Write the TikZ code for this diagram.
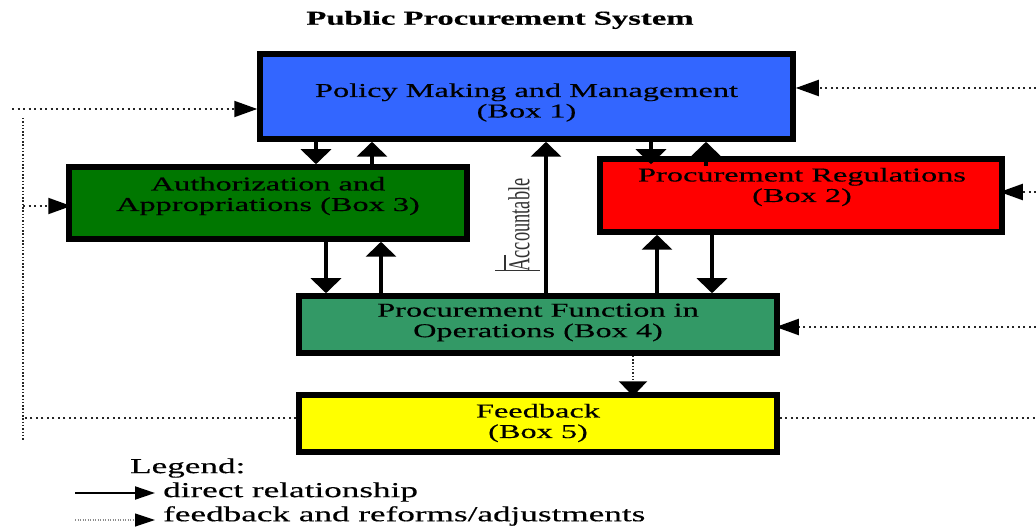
\documentclass[tikz,border=0pt]{standalone}
\usepackage{fontspec}
\usepackage{graphicx}
\setmainfont{Liberation Serif}
\newfontfamily\wideserif[FakeStretch=1.65,FakeBold=0.4]{Liberation Serif}
\usetikzlibrary{arrows.meta}

\definecolor{boxblue}{RGB}{51,102,255}
\definecolor{boxred}{RGB}{255,0,0}
\definecolor{boxgreen}{RGB}{0,119,0}
\definecolor{boxsea}{RGB}{51,153,102}
\definecolor{boxyellow}{RGB}{255,255,0}

\tikzset{
  sysbox/.style={draw=black, line width=5.5pt, inner sep=0pt, outer sep=2.75pt, rectangle},
  boxtext/.style={align=center, inner sep=0pt, font=\wideserif\fontsize{19.6pt}{20.5pt}\selectfont},
  direct/.style={line width=3.8pt, -{Triangle[length=15pt,width=30pt]}},
  fbtip/.style={-{Triangle[length=23pt,width=16pt,color=black,fill=black]}},
  fback/.style={line width=2pt, black!85, dash pattern=on 2pt off 3.5pt, fbtip},
  fbline/.style={line width=2pt, black!85, dash pattern=on 2pt off 3.5pt},
  fbdense/.style={line width=2.4pt, black!85, dash pattern=on 1.5pt off 1.8pt},
  legtext/.style={anchor=west, inner sep=0pt, font=\wideserif\fontsize{21.3pt}{23pt}\selectfont}
}

\begin{document}
\begin{tikzpicture}[x=1pt,y=-1pt]
  \fill[white] (0,0) rectangle (1036,529);
  \useasboundingbox (0,0) rectangle (1036,529);

  % title
  \node[inner sep=0pt, font=\wideserif\bfseries\fontsize{19.8pt}{22pt}\selectfont] (title) at (500,20) {Public Procurement System};

  % the five boxes
  \node[sysbox, fill=boxblue,   minimum width=533pt, minimum height=85pt] (b1) at (526.5,96.5) {};
  \node[sysbox, fill=boxred,    minimum width=402pt, minimum height=73pt] (b2) at (801,195.5) {};
  \node[sysbox, fill=boxgreen,  minimum width=398pt, minimum height=72pt] (b3) at (268,203) {};
  \node[sysbox, fill=boxsea,    minimum width=478pt, minimum height=57pt] (b4) at (538,324.5) {};
  \node[sysbox, fill=boxyellow, minimum width=478pt, minimum height=57pt] (b5) at (538,423.5) {};

  \node[boxtext] (t1) at (526.5,102.5) {Policy Making and Management\\(Box 1)};
  \node[boxtext] (t2) at (802,187) {Procurement Regulations\\(Box 2)};
  \node[boxtext] (t3) at (268,196) {Authorization and\\Appropriations (Box 3)};
  \node[boxtext] (t4) at (538,322.5) {Procurement Function in\\Operations (Box 4)};
  \node[boxtext] (t5) at (538,423) {Feedback\\(Box 5)};

  % columns of the vertical connectors
  \coordinate (cA) at (316,0);
  \coordinate (cB) at (372,0);
  \coordinate (cC) at (651,0);
  \coordinate (cD) at (706,0);
  \coordinate (cE) at (326,0);
  \coordinate (cF) at (381,0);
  \coordinate (cG) at (657,0);
  \coordinate (cH) at (712,0);
  \coordinate (cI) at (546,0);
  \coordinate (cJ) at (633,0);

  % direct relationships
  \draw[direct] (b1.south -| cA) -- (b3.north -| cA);
  \draw[direct] (b3.north -| cB) -- (b1.south -| cB);
  \draw[direct, shorten >=-8pt] (b1.south -| cC) -- (b2.north -| cC);
  \draw[direct, shorten <=-10pt] (b2.north -| cD) -- (b1.south -| cD);
  \draw[direct] (b3.south -| cE) -- (b4.north -| cE);
  \draw[direct] (b4.north -| cF) -- (b3.south -| cF);
  \draw[direct] (b4.north -| cG) -- (b2.south -| cG);
  \draw[direct] (b2.south -| cH) -- (b4.north -| cH);
  \draw[direct] (b4.north -| cI) -- (b1.south -| cI);

  % accountable label
  \node[inner sep=0pt, text=black!80] (acc) at (519,225)
    {\scalebox{1.65}[1]{\rotatebox{90}{\fontsize{18.4pt}{20pt}\selectfont Accountable}}};
  \draw[line width=1.3pt, black!80] (495,270.5) -- (540,270.5);
  \draw[line width=1.3pt, black!80] (505,255) -- (505,270.5);

  % operations to feedback
  \draw[fbdense, -{Triangle[length=15pt,width=28pt,color=black,fill=black]}, shorten >=-4pt] (b4.south -| cJ) -- (b5.north -| cJ);

  % left feedback loop
  \coordinate (lTop) at (12,109);
  \coordinate (lv1) at (23,118);
  \coordinate (lv2) at (23,441);
  \coordinate (l3) at (23,206);
  \coordinate (l5) at (23,418);
  \draw[fback] (lTop) -- (b1.west |- lTop);
  \draw[fbdense] (lv1) -- (lv2);
  \draw[fback, shorten >=-5pt] (l3) -- (b3.west |- l3);
  \draw[fbline] (b5.west |- l5) -- (l5);

  % right feedback loop
  \coordinate (r1) at (1036,88);
  \coordinate (r2) at (1036,192);
  \coordinate (r4) at (1036,327);
  \coordinate (r5) at (1036,418);
  \draw[fback] (r1) -- (b1.east |- r1);
  \draw[fback, shorten >=-5pt] (r2) -- (b2.east |- r2);
  \draw[fback, shorten >=-4pt] (r4) -- (b4.east |- r4);
  \draw[fbline] (b5.east |- r5) -- (r5);

  % legend
  \node[legtext] (legend) at (130,468) {Legend:};
  \coordinate (ls1) at (75,493);
  \coordinate (le1) at (155,493);
  \coordinate (ls2) at (75,520);
  \coordinate (le2) at (155,520);
  \draw[line width=2pt, -{Triangle[length=20pt,width=13pt]}] (ls1) -- (le1);
  \draw[line width=1.2pt, black!45, dash pattern=on 1pt off 1.5pt, -{Triangle[length=20pt,width=13pt,fill=black,color=black]}] (ls2) -- (le2);
  \node[legtext] (leg1) at (163,492) {direct relationship};
  \node[legtext] (leg2) at (163,516) {feedback and reforms/adjustments};
\end{tikzpicture}
\end{document}
